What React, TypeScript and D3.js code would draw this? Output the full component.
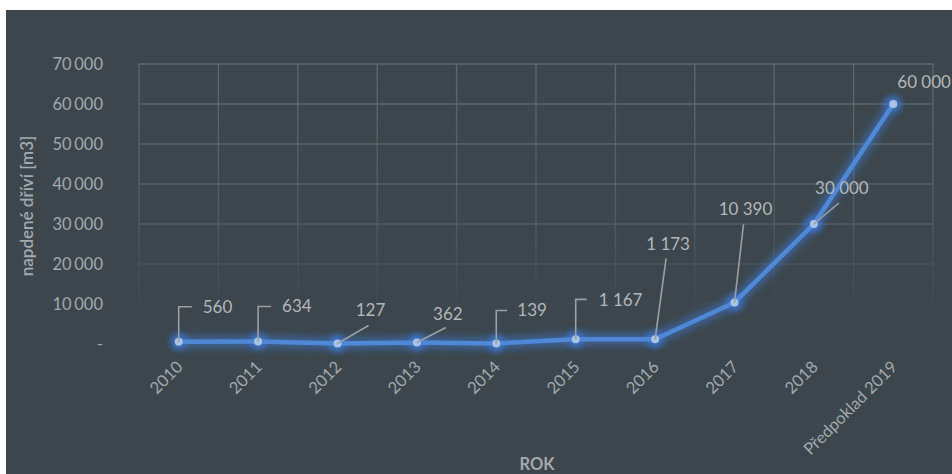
import React from "react";
import * as d3 from "d3";

const categories = ["2010", "2011", "2012", "2013", "2014", "2015", "2016", "2017", "2018", "Předpoklad 2019"];
const values = [560, 634, 127, 362, 139, 1167, 1173, 10390, 30000, 60000];
const yTicks = [0, 10000, 20000, 30000, 40000, 50000, 60000, 70000];
const yTitle = "napdené dříví [m3]";
const xTitle = "ROK";

// annotation layout (leader lines of data labels), relative to each point
type Lead = { kind: "elbow" | "line" | "none"; ex: number; ey: number; w: number; tx: number; ty: number; anchor: string };
const leaders: Lead[] = [
  { kind: "elbow", ex: 0, ey: -35, w: 13, tx: 24, ty: -35, anchor: "start" },
  { kind: "elbow", ex: 0, ey: -35, w: 13, tx: 24, ty: -35, anchor: "start" },
  { kind: "line", ex: 31, ey: -18, w: 0, tx: 33, ty: -33, anchor: "middle" },
  { kind: "line", ex: 29, ey: -15, w: 0, tx: 31, ty: -29, anchor: "middle" },
  { kind: "elbow", ex: 0, ey: -33, w: 11, tx: 21, ty: -33, anchor: "start" },
  { kind: "elbow", ex: 0, ey: -40, w: 11, tx: 23, ty: -39, anchor: "start" },
  { kind: "line", ex: 11, ey: -81, w: 0, tx: 13, ty: -95, anchor: "middle" },
  { kind: "line", ex: 9, ey: -78, w: 0, tx: 11, ty: -93, anchor: "middle" },
  { kind: "line", ex: 25, ey: -21, w: 0, tx: 28, ty: -36, anchor: "middle" },
  { kind: "none", ex: 0, ey: 0, w: 0, tx: 4, ty: -22, anchor: "start" },
];

const W = 952, H = 474;
const plot = { left: 139, right: 933, top: 64, bottom: 344 };

const fmt = (v: number) => d3.format(",")(v).replace(/,/g, " ");
const fmtLabel = (v: number) => d3.format(",")(v).replace(/,/g, " ");

export default function App() {
  const x = d3.scaleBand<string>().domain(categories).range([plot.left, plot.right]).padding(0);
  const y = d3.scaleLinear().domain([0, 70000]).range([plot.bottom, plot.top]);
  const cx = (c: string) => (x(c) as number) + x.bandwidth() / 2;
  const pts: [number, number][] = values.map((v, i) => [cx(categories[i]), y(v)]);
  const line = d3.line<[number, number]>().x((d) => d[0]).y((d) => d[1]);
  const font = "Lato, 'Open Sans', sans-serif";
  const tickColor = "#a3a9ad";
  const labColor = "#b3b7ba";
  const bgColor = "#3c464c";

  return (
    <div style={{ position: "absolute", left: 0, top: 0 }}>
      <svg width={W} height={H} style={{ display: "block" }}>
        <defs>
          <linearGradient id="gridFade" gradientUnits="userSpaceOnUse" x1="0" y1={plot.top} x2="0" y2={plot.bottom}>
            <stop offset="0" stopColor="#5f686d" />
            <stop offset="0.55" stopColor="#535c61" />
            <stop offset="0.9" stopColor={bgColor} />
          </linearGradient>
          <filter id="glow" x="-20%" y="-20%" width="140%" height="140%">
            <feGaussianBlur stdDeviation="4" />
          </filter>
          <filter id="glow2" x="-100%" y="-100%" width="300%" height="300%">
            <feGaussianBlur stdDeviation="3" />
          </filter>
        </defs>
        <rect x={0} y={0} width={W} height={H} fill="#ffffff" />
        <rect x={6} y={10} width={W - 6} height={H - 10} fill={bgColor} />

        {/* grid */}
        <g>
          {yTicks.map((t) => (
            <line key={"h" + t} x1={plot.left} x2={plot.right} y1={y(t)} y2={y(t)} stroke="url(#gridFade)" strokeWidth={1.3} />
          ))}
          {categories.map((c) => (
            <line key={"v" + c} x1={x(c) as number} x2={x(c) as number} y1={plot.top} y2={plot.bottom} stroke="url(#gridFade)" strokeWidth={1.3} />
          ))}
          <line x1={plot.right} x2={plot.right} y1={plot.top} y2={plot.bottom} stroke="url(#gridFade)" strokeWidth={1.3} />
        </g>

        {/* y tick labels */}
        {yTicks.map((t) => (
          <text key={"yt" + t} x={103} y={y(t)} dy="0.35em" textAnchor="end" fill={tickColor} fontFamily={font} fontSize={16.5} wordSpacing={-1.5}>
            {t === 0 ? "-" : fmt(t)}
          </text>
        ))}

        {/* y title */}
        <text transform={`translate(33,${(plot.top + plot.bottom) / 2 + 2}) rotate(-90)`} textAnchor="middle" fill={tickColor} fontFamily={font} fontSize={17} fontWeight={600}>
          {yTitle}
        </text>

        {/* x tick labels */}
        {categories.map((c) => (
          <text key={"xt" + c} transform={`translate(${cx(c) + 5},${plot.bottom + 24}) rotate(-45)`} textAnchor="end" fill={tickColor} fontFamily={font} fontSize={16.5}>
            {c}
          </text>
        ))}

        {/* x title */}
        <text x={537} y={470} textAnchor="middle" fill={tickColor} fontFamily={font} fontSize={16.5} fontWeight={700}>
          {xTitle}
        </text>

        {/* line glow */}
        <path d={line(pts) as string} fill="none" stroke="#3f7fe0" strokeWidth={11} opacity={0.55} filter="url(#glow)" />
        {pts.map((p, i) => (
          <circle key={"g" + i} cx={p[0]} cy={p[1]} r={8.5} fill="#3a78d8" opacity={0.8} filter="url(#glow2)" />
        ))}
        <path d={line(pts) as string} fill="none" stroke="#5088d8" strokeWidth={4.5} strokeLinejoin="round" />
        {pts.map((p, i) => (
          <circle key={"p" + i} cx={p[0]} cy={p[1]} r={4} fill="#a9c3e6" />
        ))}

        {/* data labels */}
        {pts.map((p, i) => {
          const L = leaders[i];
          return (
            <g key={"l" + i}>
              {L.kind === "elbow" && (
                <polyline points={`${p[0]},${p[1]} ${p[0] + L.ex},${p[1] + L.ey} ${p[0] + L.ex + L.w},${p[1] + L.ey}`} fill="none" stroke="#9aa0a4" strokeWidth={1.6} />
              )}
              {L.kind === "line" && (
                <line x1={p[0]} y1={p[1]} x2={p[0] + L.ex} y2={p[1] + L.ey} stroke="#9aa0a4" strokeWidth={1.6} />
              )}
              <text x={p[0] + L.tx} y={p[1] + L.ty} dy="0.35em" textAnchor={L.anchor} fill={labColor} fontFamily={font} fontSize={17}>
                {fmtLabel(values[i])}
              </text>
            </g>
          );
        })}
      </svg>
    </div>
  );
}
